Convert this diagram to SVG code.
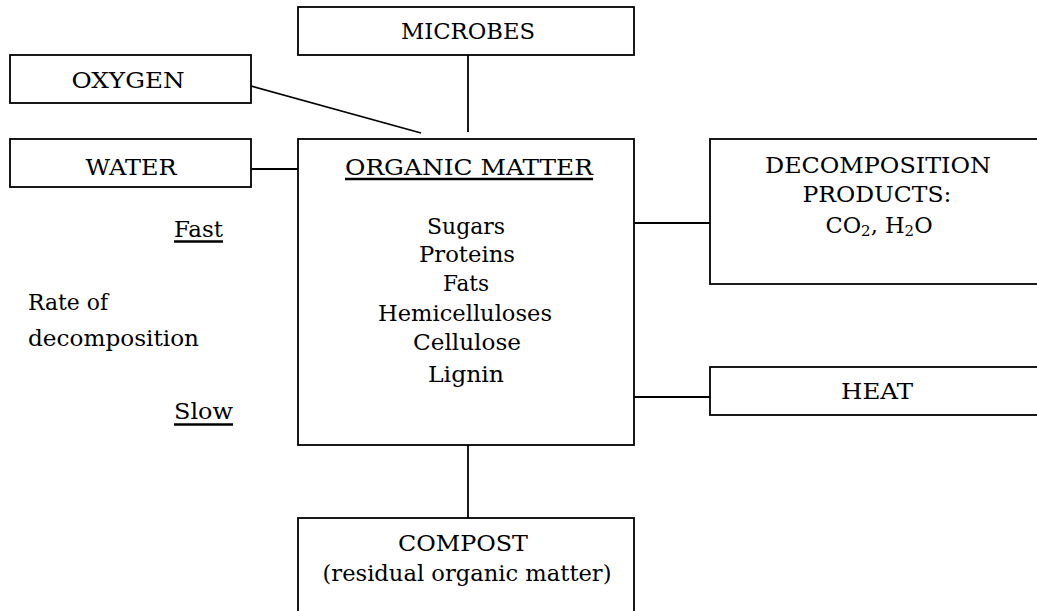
<svg xmlns="http://www.w3.org/2000/svg" width="1037" height="611" viewBox="0 0 1037 611">
<style>
  rect.box { fill: #fff; stroke: #000; stroke-width: 1.8; }
  .conn line { stroke: #000; stroke-width: 1.8; }
  line.ul { stroke: #000; stroke-width: 2.4; }
  text { font-family: "DejaVu Serif", "Liberation Serif", serif; font-size: 22.5px; fill: #000; }
  text.c { text-anchor: middle; }
  text.sm { font-size: 23px; }
</style>
<g class="conn" id="connectors">
  <line x1="251" y1="86" x2="421" y2="133"/>
  <line x1="468" y1="55" x2="468" y2="132"/>
  <line x1="251" y1="169" x2="298" y2="169"/>
  <line x1="634" y1="223" x2="710" y2="223"/>
  <line x1="634" y1="397" x2="710" y2="397"/>
  <line x1="468" y1="445" x2="468" y2="518"/>
</g>
<g id="microbes">
  <rect class="box" x="298" y="7" width="336" height="48"/>
  <text class="c" x="468" y="39" textLength="134" lengthAdjust="spacingAndGlyphs">MICROBES</text>
</g>
<g id="oxygen">
  <rect class="box" x="10" y="55" width="241" height="48"/>
  <text class="c" x="128" y="88" textLength="113" lengthAdjust="spacingAndGlyphs">OXYGEN</text>
</g>
<g id="water">
  <rect class="box" x="10" y="139" width="241" height="48"/>
  <text class="c" x="131" y="175" textLength="91" lengthAdjust="spacingAndGlyphs">WATER</text>
</g>
<g id="organic-matter">
  <rect class="box" x="298" y="139" width="336" height="306"/>
  <text class="c" x="469" y="175" textLength="248" lengthAdjust="spacingAndGlyphs">ORGANIC MATTER</text>
  <line class="ul" x1="345" y1="179" x2="593" y2="179"/>
  <text class="c sm" x="466" y="234" textLength="78" lengthAdjust="spacingAndGlyphs">Sugars</text>
  <text class="c sm" x="467" y="262" textLength="96" lengthAdjust="spacingAndGlyphs">Proteins</text>
  <text class="c sm" x="466" y="291" textLength="46" lengthAdjust="spacingAndGlyphs">Fats</text>
  <text class="c sm" x="465" y="321" textLength="174" lengthAdjust="spacingAndGlyphs">Hemicelluloses</text>
  <text class="c sm" x="467" y="350" textLength="108" lengthAdjust="spacingAndGlyphs">Cellulose</text>
  <text class="c sm" x="466" y="382" textLength="76" lengthAdjust="spacingAndGlyphs">Lignin</text>
</g>
<g id="rate-labels">
  <text class="sm" x="174" y="237" textLength="49" lengthAdjust="spacingAndGlyphs">Fast</text>
  <line class="ul" x1="174" y1="241.5" x2="223" y2="241.5"/>
  <text class="sm" x="28" y="310" textLength="80" lengthAdjust="spacingAndGlyphs">Rate of</text>
  <text class="sm" x="28" y="346" textLength="171" lengthAdjust="spacingAndGlyphs">decomposition</text>
  <text class="sm" x="174" y="419" textLength="59" lengthAdjust="spacingAndGlyphs">Slow</text>
  <line class="ul" x1="174" y1="424.5" x2="233" y2="424.5"/>
</g>
<g id="decomposition-products">
  <rect class="box" x="710" y="139" width="340" height="145"/>
  <text class="c" x="878" y="173" textLength="226" lengthAdjust="spacingAndGlyphs">DECOMPOSITION</text>
  <text class="c" x="877" y="202" textLength="149" lengthAdjust="spacingAndGlyphs">PRODUCTS:</text>
  <text class="c" x="879" y="233" font-size="23">CO<tspan font-size="15" dy="3">2</tspan><tspan dy="-3">, H</tspan><tspan font-size="15" dy="3">2</tspan><tspan dy="-3">O</tspan></text>
</g>
<g id="heat">
  <rect class="box" x="710" y="367" width="340" height="48"/>
  <text class="c" x="877" y="399" textLength="72" lengthAdjust="spacingAndGlyphs">HEAT</text>
</g>
<g id="compost">
  <rect class="box" x="298" y="518" width="336" height="110"/>
  <text class="c" x="463" y="551" textLength="130" lengthAdjust="spacingAndGlyphs">COMPOST</text>
  <text class="c sm" x="467" y="581" textLength="289" lengthAdjust="spacingAndGlyphs">(residual organic matter)</text>
</g>
</svg>
